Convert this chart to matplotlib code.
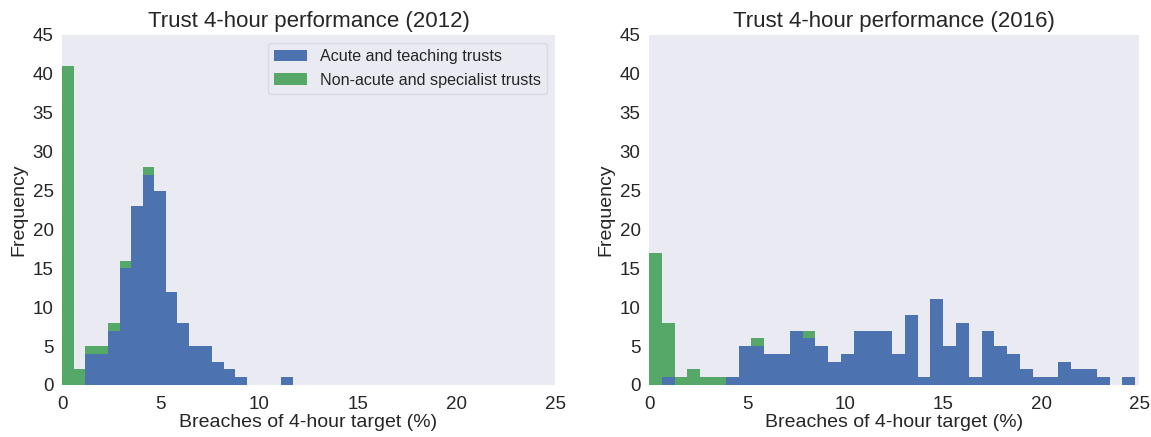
import numpy as np
import matplotlib
matplotlib.use("Agg")
import matplotlib.pyplot as plt

# bin counts (stacked: acute at the bottom, non-acute on top)
acute_2012 = [0, 0, 4, 4, 7, 15, 23, 27, 25, 12, 8, 5, 5, 3, 2, 1, 0, 0, 0, 1]
nonacute_2012 = [41, 2, 1, 1, 1, 1, 0, 1, 0, 0, 0, 0, 0, 0, 0, 0, 0, 0, 0, 0]
range_2012 = (0.0, 11.71)

acute_2016 = [0, 1, 0, 0, 0, 0, 1, 5, 5, 4, 4, 7, 6, 5, 3, 4, 7, 7, 7, 4,
              9, 1, 11, 5, 8, 1, 7, 5, 4, 2, 1, 1, 3, 2, 2, 1, 0, 1]
nonacute_2016 = [17, 7, 1, 2, 1, 1, 0, 0, 1, 0, 0, 0, 1, 0, 0, 0, 0, 0, 0, 0,
                 0, 0, 0, 0, 0, 0, 0, 0, 0, 0, 0, 0, 0, 0, 0, 0, 0, 0]
range_2016 = (0.0, 24.8)

labels = ["Acute and teaching trusts", "Non-acute and specialist trusts"]
colors = ["#4C72B0", "#55A868"]

plt.rcParams['font.family'] = ['Arial', 'Liberation Sans', 'DejaVu Sans']

fig = plt.figure(figsize=(11.51, 4.37), dpi=100)
ax1 = fig.add_axes([0.0539, 0.119, 0.4283, 0.801])
ax2 = fig.add_axes([0.5639, 0.119, 0.4257, 0.801])


def draw(ax, acute, nonacute, rng, year, legend=False):
    n = len(acute)
    edges = np.linspace(rng[0], rng[1], n + 1)
    centers = (edges[:-1] + edges[1:]) / 2
    ax.hist([centers, centers], bins=edges, weights=[acute, nonacute],
            stacked=True, color=colors, label=labels, linewidth=0)
    ax.set_facecolor("#EAEAF2")
    for s in ax.spines.values():
        s.set_visible(False)
    ax.set_xlim(0, 25)
    ax.set_ylim(0, 45)
    ax.set_xticks(range(0, 26, 5))
    ax.set_yticks(range(0, 46, 5))
    ax.tick_params(length=0, labelsize=13.5, colors="#262626", pad=6)
    ax.tick_params(axis="x", pad=8)
    ax.set_title("Trust 4-hour performance (%d)" % year, fontsize=16, color="#262626")
    ax.set_xlabel("Breaches of 4-hour target (%)", fontsize=14, color="#262626", labelpad=1)
    ax.set_ylabel("Frequency", fontsize=14, color="#262626")
    if legend:
        leg = ax.legend(loc="upper right", fontsize=11.6, frameon=True,
                        facecolor="#EAEAF2", edgecolor="#D5D5DD")
        for t in leg.get_texts():
            t.set_color("#262626")


draw(ax1, acute_2012, nonacute_2012, range_2012, 2012, legend=True)
draw(ax2, acute_2016, nonacute_2016, range_2016, 2016)

fig.savefig("out.png", dpi=100, facecolor="white")
